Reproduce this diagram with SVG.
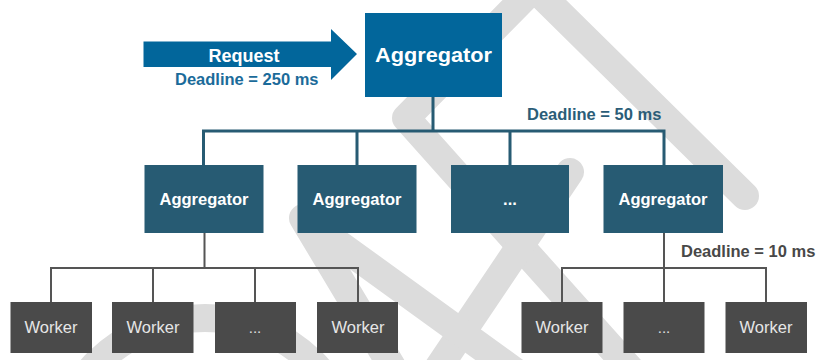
<svg xmlns="http://www.w3.org/2000/svg" width="817" height="360" viewBox="0 0 817 360">
<style>
.wm{fill:none;stroke:#dcdcdc;stroke-width:28;stroke-linecap:round;stroke-linejoin:round}
.top{fill:#02669b}
.agg{fill:#275b73}
.wrk{fill:#4a4a4a}
.c1{fill:none;stroke:#275b73;stroke-width:3}
.c2{fill:none;stroke:#555555;stroke-width:2}
text{font-family:"Liberation Sans",Arial,Helvetica,sans-serif}
.t-agg{fill:#ffffff;font-size:16.5px;font-weight:bold;text-anchor:middle}
.t-wrk{fill:#e6e6e6;font-size:16.5px;text-anchor:middle}
.t-dots{fill:#e0e0e0;font-size:15px;text-anchor:middle}
.lbl{font-size:16.5px;font-weight:bold}
</style>
<rect width="817" height="360" fill="#ffffff"/>
<g id="watermark">
<path class="wm" d="M745 196 L534 -12 L406 118 L640 380"/>
<path class="wm" d="M570 172 L430 380"/>
<path class="wm" d="M400 380 L303 218 L520 375"/>
<circle class="wm" cx="205" cy="470" r="152"/>
</g>
<g id="connectors">
<path class="c1" d="M433 97 V131 M203.5 131 H664 M203.5 129.5 V165 M357 131 V165 M510 131 V165 M664 129.5 V165"/>
<path class="c2" d="M204.5 233 V268 M51 268 H358 M51 267 V302 M153 268 V302 M255 268 V302 M358 267 V302"/>
<path class="c2" d="M664 233 V268 M562 268 H766 M562 267 V302 M664 268 V302 M766 267 V302"/>
</g>
<g id="request">
<polygon class="top" points="143.5,41.5 331,41.5 331,29 357,54 331,80 331,67 143.5,67"/>
<text x="244" y="62" fill="#ffffff" font-size="18" font-weight="bold" text-anchor="middle">Request</text>
<text x="175" y="85" class="lbl" fill="#1b6b9a">Deadline = 250 ms</text>
</g>
<g id="root">
<rect class="top" x="365" y="13" width="137" height="84"/>
<text x="433.5" y="62" fill="#ffffff" font-size="20" font-weight="bold" text-anchor="middle" textLength="117" lengthAdjust="spacingAndGlyphs">Aggregator</text>
</g>
<text id="label-50" x="527" y="120" class="lbl" fill="#2b5d78">Deadline = 50 ms</text>
<g id="agg1"><rect class="agg" x="144.5" y="165" width="119" height="68"/><text class="t-agg" x="204" y="205">Aggregator</text></g>
<g id="agg2"><rect class="agg" x="297.5" y="165" width="119" height="68"/><text class="t-agg" x="357" y="205">Aggregator</text></g>
<g id="agg3"><rect class="agg" x="451" y="165" width="118" height="68"/><text class="t-agg" x="510" y="205">...</text></g>
<g id="agg4"><rect class="agg" x="603.5" y="165" width="119.5" height="68"/><text class="t-agg" x="663" y="205">Aggregator</text></g>
<text id="label-10" x="681" y="257" class="lbl" fill="#484848">Deadline = 10 ms</text>
<g id="w1"><rect class="wrk" x="10.5" y="302" width="81.5" height="51"/><text class="t-wrk" x="51" y="333">Worker</text></g>
<g id="w2"><rect class="wrk" x="112" y="302" width="81.5" height="51"/><text class="t-wrk" x="153" y="333">Worker</text></g>
<g id="w3"><rect class="wrk" x="215" y="302" width="81" height="51"/><text class="t-dots" x="255" y="333">...</text></g>
<g id="w4"><rect class="wrk" x="317" y="302" width="81" height="51"/><text class="t-wrk" x="358" y="333">Worker</text></g>
<g id="w5"><rect class="wrk" x="521.5" y="302" width="81" height="51"/><text class="t-wrk" x="562" y="333">Worker</text></g>
<g id="w6"><rect class="wrk" x="623.5" y="302" width="81" height="51"/><text class="t-dots" x="664" y="333">...</text></g>
<g id="w7"><rect class="wrk" x="725.5" y="302" width="81.5" height="51"/><text class="t-wrk" x="766" y="333">Worker</text></g>
</svg>
